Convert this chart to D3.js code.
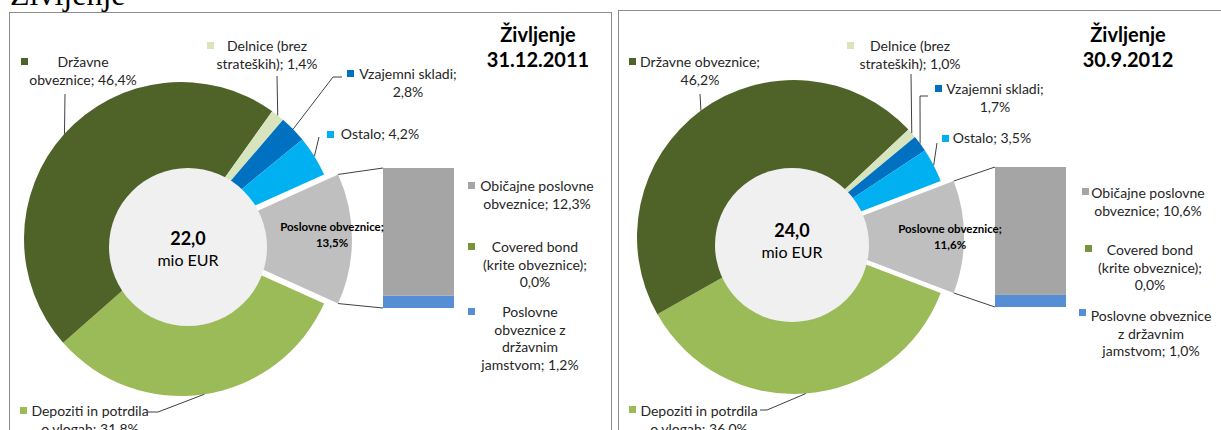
<!DOCTYPE html>
<html>
<head>
<meta charset="utf-8">
<script src="https://cdn.jsdelivr.net/npm/d3@7"></script>
<style>
  body { margin: 0; background: #fff; }
  svg { display: block; font-family: Lato, "Open Sans", sans-serif; }
</style>
</head>
<body>
<div id="chart"></div>
<script>
// data
const periods = ["31.12.2011", "30.9.2012"];
const totals = [22.0, 24.0];
const pieCategories = ["Poslovne obveznice", "Depoziti in potrdila o vlogah", "Državne obveznice",
  "Delnice (brez strateških)", "Vzajemni skladi", "Ostalo"];
const pieValues2011 = [13.5, 31.8, 46.4, 1.4, 2.8, 4.2];
const pieValues2012 = [11.6, 36.0, 46.2, 1.0, 1.7, 3.5];
const barCategories = ["Običajne poslovne obveznice", "Covered bond (krite obveznice)",
  "Poslovne obveznice z državnim jamstvom"];
const barValues2011 = [12.3, 0.0, 1.2];
const barValues2012 = [10.6, 0.0, 1.0];

const pieColors = ["#bfbfbf", "#9bbb59", "#4f6228", "#d7e4bd", "#0070c0", "#00b0f0"];
const barColors = ["#a5a5a5", "#77933c", "#558ed5"];

const width = 1221, height = 430;
const fmt = v => d3.format(".1f")(v).replace(".", ",");

// split "name; value%" into lines after given word counts
function labelLines(name, value, breaks) {
  const words = (name + "; " + fmt(value) + "%").split(" ");
  const lines = [];
  let start = 0;
  breaks.concat([words.length]).forEach(b => {
    lines.push(words.slice(start, b).join(" "));
    start = b;
  });
  return lines;
}

const panels = [
  {
    date: periods[0], total: totals[0], pie: pieValues2011, bar: barValues2011,
    frame: [9.5, 12.5, 602], cx: 181, cy: 239, r: 157, explode: 14,
    hole: {cx: 188, cy: 247, r: 79, y1: 245, y2: 266},
    titleX: 538, titleY: [42, 67],
    barBox: {x: 383, w: 71, top: 168, bottom: 308},
    pieLabels: [
      {x: 332, y: 231, breaks: [2], bold: true},
      {x: 90, y: 416, breaks: [3], m: [20, 407], leader: [[158, 412], [148, 412]]},
      {x: 83, y: 67, breaks: [1], m: [21, 58], leader: [[65, 94]]},
      {x: 267, y: 51, breaks: [2], m: [207, 42], leader: [[277, 76]]},
      {x: 408, y: 79, breaks: [2], m: [347, 70], leader: [[333, 77], [342, 77]]},
      {x: 380, y: 139, breaks: [], m: [327, 131], leader: [[319, 137]]}
    ],
    barLabels: [
      {x: 537, y: 191, breaks: [2], m: [468, 182]},
      {x: 535, y: 252, breaks: [2, 4], m: [468, 243]},
      {x: 530, y: 317, breaks: [1, 3, 4], m: [468, 308]}
    ]
  },
  {
    date: periods[1], total: totals[1], pie: pieValues2012, bar: barValues2012,
    frame: [618.5, 10.5, 700], cx: 794, cy: 237, r: 157, explode: 13,
    hole: {cx: 792, cy: 245, r: 77, y1: 237, y2: 258},
    titleX: 1128, titleY: [42, 67],
    barBox: {x: 995, w: 71, top: 167, bottom: 307},
    pieLabels: [
      {x: 950, y: 233, breaks: [2], bold: true},
      {x: 699, y: 416, breaks: [3], m: [629, 406], leader: [[767, 410], [760, 410]]},
      {x: 700, y: 67, breaks: [2], m: [629, 58], leader: [[700, 94]]},
      {x: 910, y: 51, breaks: [2], m: [847, 42], leader: [[911, 74]]},
      {x: 995, y: 94, breaks: [2], m: [935, 85], leader: [[920, 96], [928, 96]]},
      {x: 992, y: 143, breaks: [], m: [942, 135], leader: [[937, 143]]}
    ],
    barLabels: [
      {x: 1148, y: 198, breaks: [2], m: [1082, 188]},
      {x: 1150, y: 255, breaks: [2, 4], m: [1085, 245]},
      {x: 1151, y: 321, breaks: [2, 4], m: [1079, 309]}
    ]
  }
];

const svg = d3.select("#chart").append("svg")
  .attr("width", width).attr("height", height);

// page heading, cut off at the top
svg.append("text")
  .attr("x", 10).attr("y", 5)
  .style("font-family", "'Liberation Serif', 'Times New Roman', serif")
  .style("font-size", "32px")
  .text("Življenje");

function drawLabel(g, lines, cfg, color) {
  const t = g.append("text")
    .attr("text-anchor", "middle")
    .style("font-size", cfg.bold ? "11.5px" : "14px")
    .style("font-weight", cfg.bold ? "bold" : "normal")
    .attr("fill", cfg.bold ? "#000" : "#262626");
  lines.forEach((l, i) => {
    t.append("tspan").attr("x", cfg.x).attr("y", cfg.y + i * (cfg.bold ? 16 : 17.5)).text(l);
  });
  if (cfg.m) {
    g.append("rect")
      .attr("x", cfg.m[0]).attr("y", cfg.m[1])
      .attr("width", 7).attr("height", 7)
      .attr("fill", color);
  }
}

panels.forEach(p => {
  const g = svg.append("g");

  g.append("rect")
    .attr("x", p.frame[0]).attr("y", p.frame[1])
    .attr("width", p.frame[2]).attr("height", 500)
    .attr("fill", "none").attr("stroke", "#8c8c8c");

  const sum = d3.sum(p.pie);
  const start = Math.PI / 2 - Math.PI * p.pie[0] / sum;
  const pie = d3.pie().sort(null).value(d => d)
    .startAngle(start).endAngle(start + 2 * Math.PI);
  const arcs = pie(p.pie);
  const arc = d3.arc().innerRadius(0).outerRadius(p.r);
  const edgeArc = d3.arc().innerRadius(p.r).outerRadius(p.r);

  g.selectAll(".slice")
    .data(arcs)
    .enter()
    .append("path")
    .attr("class", "slice")
    .attr("transform", (d, i) => "translate(" + (p.cx + (i === 0 ? p.explode : 0)) + "," + p.cy + ")")
    .attr("d", arc)
    .attr("fill", (d, i) => pieColors[i]);

  // bar of the split slice
  const y = d3.scaleLinear().domain([0, p.pie[0]]).range([p.barBox.bottom, p.barBox.top]);
  const order = [2, 1, 0];
  let acc = 0;
  const stack = order.map(i => {
    const s = {i: i, y0: acc, y1: acc + p.bar[i]};
    acc += p.bar[i];
    return s;
  });
  g.selectAll(".bar")
    .data(stack)
    .enter()
    .append("rect")
    .attr("class", "bar")
    .attr("x", p.barBox.x)
    .attr("width", p.barBox.w)
    .attr("y", d => y(d.y1))
    .attr("height", d => y(d.y0) - y(d.y1))
    .attr("fill", d => barColors[d.i]);

  // connectors from split slice to bar
  const corner = a => [p.cx + p.explode + p.r * Math.sin(a), p.cy - p.r * Math.cos(a)];
  [[corner(arcs[0].startAngle), [p.barBox.x, y(p.pie[0])]],
   [corner(arcs[0].endAngle), [p.barBox.x, y(0)]]].forEach(seg => {
    g.append("path").attr("d", d3.line()(seg))
      .attr("stroke", "#404040").attr("stroke-width", 1).attr("fill", "none");
  });

  // centre disc
  g.append("circle")
    .attr("cx", p.hole.cx).attr("cy", p.hole.cy).attr("r", p.hole.r)
    .attr("fill", "#f0f0f0");
  g.append("text")
    .attr("x", p.hole.cx).attr("y", p.hole.y1)
    .attr("text-anchor", "middle")
    .style("font-size", "18px").style("font-weight", "bold")
    .text(fmt(p.total));
  g.append("text")
    .attr("x", p.hole.cx).attr("y", p.hole.y2)
    .attr("text-anchor", "middle")
    .style("font-size", "16px")
    .text("mio EUR");

  // title
  g.append("text")
    .attr("x", p.titleX).attr("y", p.titleY[0])
    .attr("text-anchor", "middle")
    .style("font-size", "20px").style("font-weight", "bold")
    .text("Življenje");
  g.append("text")
    .attr("x", p.titleX).attr("y", p.titleY[1])
    .attr("text-anchor", "middle")
    .style("font-size", "20px").style("font-weight", "bold")
    .text(p.date);

  // pie labels and leader lines
  arcs.forEach((d, i) => {
    const cfg = p.pieLabels[i];
    if (cfg.leader) {
      const c = edgeArc.centroid(d);
      const pts = [[p.cx + c[0], p.cy + c[1]]].concat(cfg.leader);
      g.append("path").attr("d", d3.line()(pts))
        .attr("stroke", "#404040").attr("stroke-width", 1).attr("fill", "none");
    }
    drawLabel(g, labelLines(pieCategories[i], p.pie[i], cfg.breaks), cfg, pieColors[i]);
  });

  p.barLabels.forEach((cfg, i) => {
    drawLabel(g, labelLines(barCategories[i], p.bar[i], cfg.breaks), cfg, barColors[i]);
  });
});
</script>
</body>
</html>
